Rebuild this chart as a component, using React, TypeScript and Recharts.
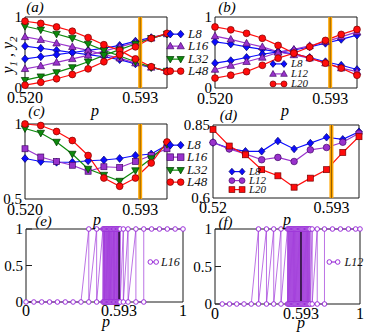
import React from 'react';
import { LineChart, Line, XAxis, YAxis, ReferenceLine, ReferenceArea, Legend } from 'recharts';

const CW = 366;
const CH = 336;
const SERIF = '"Liberation Serif", "DejaVu Serif", serif';

const BLUE = '#0c0cff';
const PURPLE = '#9932cc';
const GREEN = '#0c8a0c';
const RED = '#ff0c0c';
const ORANGE = '#ffa500';
const OUTLINE: Record<string, string> = {
  [BLUE]: '#00006a',
  [PURPLE]: '#45086a',
  [GREEN]: '#003a00',
  [RED]: '#780000',
};

// ---------- data ----------
const P_GRID = [0.52, 0.53, 0.54, 0.55, 0.56, 0.57, 0.58, 0.59, 0.6, 0.61];
const PC = 0.593;

// panel (a): y1 (decreasing) and y2 (increasing)
const A_L8_Y1 = [0.59, 0.56, 0.53, 0.5, 0.47, 0.44, 0.4, 0.34, 0.29, 0.24];
const A_L8_Y2 = [0.41, 0.44, 0.47, 0.5, 0.53, 0.56, 0.6, 0.66, 0.71, 0.76];
const A_L16_Y1 = [0.72, 0.68, 0.63, 0.58, 0.53, 0.47, 0.42, 0.35, 0.29, 0.24];
const A_L16_Y2 = [0.27, 0.31, 0.36, 0.41, 0.46, 0.52, 0.58, 0.64, 0.7, 0.76];
const A_L32_Y1 = [0.87, 0.82, 0.76, 0.7, 0.62, 0.53, 0.45, 0.37, 0.29, 0.24];
const A_L32_Y2 = [0.11, 0.16, 0.22, 0.29, 0.37, 0.46, 0.54, 0.62, 0.7, 0.76];
const A_L48_Y1 = [0.94, 0.91, 0.86, 0.8, 0.71, 0.61, 0.53, 0.41, 0.3, 0.23];
const A_L48_Y2 = [0.04, 0.08, 0.13, 0.19, 0.27, 0.37, 0.47, 0.58, 0.7, 0.77];

// panel (b)
const B_L8_Y1 = [0.65, 0.62, 0.58, 0.545, 0.51, 0.48, 0.43, 0.37, 0.32, 0.26];
const B_L8_Y2 = [0.35, 0.385, 0.43, 0.475, 0.51, 0.535, 0.58, 0.63, 0.685, 0.745];
const B_L12_Y1 = [0.73, 0.685, 0.63, 0.58, 0.51, 0.465, 0.42, 0.35, 0.28, 0.23];
const B_L12_Y2 = [0.26, 0.315, 0.37, 0.43, 0.5, 0.545, 0.595, 0.65, 0.72, 0.79];
const B_L20_Y1 = [0.86, 0.82, 0.77, 0.7, 0.6, 0.49, 0.42, 0.35, 0.28, 0.18];
const B_L20_Y2 = [0.14, 0.18, 0.23, 0.32, 0.42, 0.49, 0.58, 0.67, 0.755, 0.825];

// panel (c)
const C_L8 = [0.77, 0.75, 0.745, 0.745, 0.755, 0.76, 0.77, 0.79, 0.8, 0.86];
const C_L16 = [0.835, 0.78, 0.75, 0.725, 0.685, 0.715, 0.71, 0.75, 0.79, 0.835];
const C_L32 = [0.97, 0.94, 0.88, 0.8, 0.7, 0.66, 0.62, 0.69, 0.77, 0.865];
const C_L48 = [1.0, 0.99, 0.95, 0.89, 0.79, 0.64, 0.585, 0.64, 0.74, 0.88];

// panel (d)
const D_L8 = [0.79, 0.77, 0.76, 0.76, 0.795, 0.768, 0.788, 0.808, 0.801, 0.827];
const D_L12 = [0.79, 0.768, 0.751, 0.731, 0.739, 0.725, 0.765, 0.773, 0.791, 0.822];
const D_L20 = [0.835, 0.778, 0.748, 0.697, 0.676, 0.637, 0.668, 0.697, 0.756, 0.81];

// panel (e), L16 single samples: p where outcome 0, p where outcome flips 1 -> 0, p where 0 -> 1, p where 1
const E_ZERO = [0, 0.05, 0.1, 0.15, 0.2, 0.25, 0.3, 0.35];
const E_FLIP = [0.4, 0.45, 0.49, 0.495, 0.5, 0.505, 0.511, 0.516, 0.521, 0.526, 0.532, 0.537, 0.542, 0.547, 0.553, 0.558, 0.563, 0.568, 0.574, 0.579, 0.584, 0.589, 0.595, 0.6, 0.62, 0.65, 0.7];
const E_RISE = [0.75];
const E_ONE = [0.8, 0.85, 0.9, 0.95, 1.0];

// panel (f), L12
const F_ZERO = [0.05, 0.1, 0.15, 0.2, 0.25];
const F_FLIP = [0.3, 0.355, 0.405, 0.455, 0.5, 0.506, 0.512, 0.518, 0.524, 0.53, 0.536, 0.542, 0.548, 0.554, 0.56, 0.566, 0.572, 0.578, 0.584, 0.59, 0.596, 0.602, 0.608, 0.614, 0.62, 0.626, 0.632, 0.638, 0.644, 0.65, 0.656, 0.67, 0.705];
const F_RISE = [0.755];
const F_ONE = [0.81, 0.865, 0.92, 0.97, 1.0];

const X_TICKS_AB = [0.52, PC];
const X_LABELS_AC = ['0.520', '0.593'];
const X_LABELS_D = ['0.52', '0.593'];
const X_TICKS_EF = [0, PC, 1];
const X_LABELS_EF = ['0', '0.593', '1'];

// ---------- tables ----------
const rowsA = P_GRID.map((p, i) => ({
  p, l8a: A_L8_Y1[i], l8b: A_L8_Y2[i], l16a: A_L16_Y1[i], l16b: A_L16_Y2[i],
  l32a: A_L32_Y1[i], l32b: A_L32_Y2[i], l48a: A_L48_Y1[i], l48b: A_L48_Y2[i],
}));
const rowsB = P_GRID.map((p, i) => ({
  p, l8a: B_L8_Y1[i], l8b: B_L8_Y2[i], l12a: B_L12_Y1[i], l12b: B_L12_Y2[i],
  l20a: B_L20_Y1[i], l20b: B_L20_Y2[i],
}));
const rowsC = P_GRID.map((p, i) => ({ p, l8: C_L8[i], l16: C_L16[i], l32: C_L32[i], l48: C_L48[i] }));
const rowsD = P_GRID.map((p, i) => ({ p, l8: D_L8[i], l12: D_L12[i], l20: D_L20[i] }));

const buildSeq = (zero: number[], flip: number[], rise: number[], one: number[]) => {
  const out: { p: number; v: number }[] = [];
  zero.forEach((p) => out.push({ p, v: 0 }));
  flip.forEach((p) => { out.push({ p, v: 1 }); out.push({ p, v: 0 }); });
  rise.forEach((p) => { out.push({ p, v: 0 }); out.push({ p, v: 1 }); });
  one.forEach((p) => out.push({ p, v: 1 }));
  return out;
};
const rowsE = buildSeq(E_ZERO, E_FLIP, E_RISE, E_ONE);
const rowsF = buildSeq(F_ZERO, F_FLIP, F_RISE, F_ONE);

// ---------- markers ----------
type Shape = 'circle' | 'ocircle' | 'square' | 'diamond' | 'up' | 'down';

function Marker({ shape, cx, cy, s, color }: { shape: Shape; cx: number; cy: number; s: number; color: string }) {
  const st = OUTLINE[color] || '#000';
  if (cx == null || cy == null || isNaN(cx) || isNaN(cy)) return null;
  switch (shape) {
    case 'circle':
      return <circle cx={cx} cy={cy} r={s} fill={color} stroke={st} strokeWidth={0.7} />;
    case 'ocircle':
      return <circle cx={cx} cy={cy} r={s} fill="#fff" stroke={color} strokeWidth={1} />;
    case 'square':
      return <rect x={cx - s} y={cy - s} width={2 * s} height={2 * s} fill={color} stroke={st} strokeWidth={0.7} />;
    case 'diamond':
      return (
        <polygon
          points={`${cx},${cy - s * 1.15} ${cx + s},${cy} ${cx},${cy + s * 1.15} ${cx - s},${cy}`}
          fill={color} stroke={st} strokeWidth={0.7}
        />
      );
    case 'up':
      return (
        <polygon
          points={`${cx},${cy - s * 1.15} ${cx + s * 1.1},${cy + s * 0.8} ${cx - s * 1.1},${cy + s * 0.8}`}
          fill={color} stroke={st} strokeWidth={0.7}
        />
      );
    case 'down':
      return (
        <polygon
          points={`${cx},${cy + s * 1.15} ${cx + s * 1.1},${cy - s * 0.8} ${cx - s * 1.1},${cy - s * 0.8}`}
          fill={color} stroke={st} strokeWidth={0.7}
        />
      );
    default:
      return null;
  }
}

const dotOf = (shape: Shape, color: string, s: number) => (props: any) => (
  <Marker key={`d-${props.index}`} shape={shape} cx={props.cx} cy={props.cy} s={s} color={color} />
);

type Item = { name: string; color: string; shape: Shape };

function LegendRows({ items, rowH, iconW, fontSize, gap, s }: { items: Item[]; rowH: number; iconW: number; fontSize: number; gap: number; s: number }) {
  return (
    <div style={{ fontFamily: SERIF }}>
      {items.map((it) => (
        <div key={it.name} style={{ display: 'flex', alignItems: 'center', height: rowH }}>
          <svg width={iconW} height={rowH} style={{ display: 'block', overflow: 'visible' }}>
            <line x1={s} y1={rowH / 2} x2={iconW - s} y2={rowH / 2} stroke={it.color} strokeWidth={1.2} />
            <Marker shape={it.shape} cx={s} cy={rowH / 2} s={s} color={it.color} />
            <Marker shape={it.shape} cx={iconW - s} cy={rowH / 2} s={s} color={it.color} />
          </svg>
          <span style={{ marginLeft: gap, fontSize, fontStyle: 'italic', lineHeight: `${rowH}px`, color: '#111', whiteSpace: 'nowrap' }}>
            {it.name}
          </span>
        </div>
      ))}
    </div>
  );
}

type LegendSpec = { left: number; top: number; rowH: number; iconW: number; fontSize: number; gap: number; s: number; items: Item[] };

type PanelProps = {
  data: any[];
  box: [number, number, number, number];
  xDomain: [number, number];
  xTicks: number[];
  xLabels: string[];
  xm: number;
  yDomain: [number, number];
  yTicks: number[];
  yLabels: string[];
  inwardY?: boolean;
  orange?: boolean;
  legend: LegendSpec;
  children: React.ReactNode;
};

function Panel({ data, box, xDomain, xTicks, xLabels, xm, yDomain, yTicks, yLabels, inwardY, orange, legend, children }: PanelProps) {
  const [x0, y0, x1, y1] = box;
  const yw = 20;
  const xh = 20;
  const tickStyle = { fontSize: 16, fill: '#000', fontFamily: SERIF };
  const yTickStyle = { fontSize: 15, fill: '#000', fontFamily: SERIF };
  return (
    <div style={{ position: 'absolute', left: 0, top: 0 }}>
      <LineChart
        width={CW}
        height={CH}
        data={data}
        margin={{ top: y0, left: x0 - yw, right: CW - x1, bottom: CH - y1 - xh }}
      >
        <XAxis
          type="number"
          dataKey="p"
          domain={xDomain}
          ticks={xTicks}
          interval={0}
          tickFormatter={(v: number) => xLabels[xTicks.indexOf(v)] ?? ''}
          axisLine={false}
          tickLine={false}
          tickSize={0}
          tickMargin={xm}
          height={xh}
          tick={tickStyle}
        />
        <YAxis
          type="number"
          domain={yDomain}
          ticks={yTicks}
          interval={0}
          tickFormatter={(v: number) => yLabels[yTicks.indexOf(v)] ?? ''}
          axisLine={false}
          tickLine={inwardY ? { stroke: '#222', strokeWidth: 1 } : false}
          tickSize={inwardY ? -6 : 0}
          tickMargin={inwardY ? 9 : 3}
          width={yw}
          tick={yTickStyle}
        />
        <ReferenceArea
          x1={xDomain[0]} x2={xDomain[1]} y1={yDomain[0]} y2={yDomain[1]}
          fill="none" fillOpacity={0} stroke="#1a1a1a" strokeWidth={1} ifOverflow="visible"
        />
        {children}
        {orange ? (
          <ReferenceLine x={PC} stroke={ORANGE} strokeWidth={4} ifOverflow="visible" />
        ) : null}
        <ReferenceLine x={PC} stroke="#000" strokeOpacity={orange ? 0.45 : 0.8} strokeWidth={orange ? 1 : 1.5} ifOverflow="visible" />
        <Legend
          layout="vertical"
          align="center"
          verticalAlign="middle"
          wrapperStyle={{ left: legend.left, top: legend.top, width: 'auto', height: 'auto' }}
          content={() => (
            <LegendRows items={legend.items} rowH={legend.rowH} iconW={legend.iconW} fontSize={legend.fontSize} gap={legend.gap} s={legend.s} />
          )}
        />
      </LineChart>
    </div>
  );
}

const lineCommon = { type: 'linear' as const, isAnimationActive: false, strokeWidth: 1.2, activeDot: false as const };

const ITEMS_A: Item[] = [
  { name: 'L8', color: BLUE, shape: 'diamond' },
  { name: 'L16', color: PURPLE, shape: 'up' },
  { name: 'L32', color: GREEN, shape: 'down' },
  { name: 'L48', color: RED, shape: 'circle' },
];
const ITEMS_B: Item[] = [
  { name: 'L8', color: BLUE, shape: 'diamond' },
  { name: 'L12', color: PURPLE, shape: 'up' },
  { name: 'L20', color: RED, shape: 'circle' },
];
const ITEMS_C: Item[] = [
  { name: 'L8', color: BLUE, shape: 'diamond' },
  { name: 'L16', color: PURPLE, shape: 'square' },
  { name: 'L32', color: GREEN, shape: 'down' },
  { name: 'L48', color: RED, shape: 'circle' },
];
const ITEMS_D: Item[] = [
  { name: 'L8', color: BLUE, shape: 'diamond' },
  { name: 'L12', color: PURPLE, shape: 'circle' },
  { name: 'L20', color: RED, shape: 'square' },
];

const EF_PURPLE = '#9b30d9';

export default function App() {
  const S = 3.4;
  return (
    <div style={{ position: 'absolute', left: 0, top: 0, width: CW, height: CH, background: '#fff', overflow: 'hidden', fontFamily: SERIF }}>
      {/* (a) */}
      <Panel
        data={rowsA} box={[25, 17, 167, 88]} xDomain={[0.52, 0.61]} xTicks={X_TICKS_AB} xLabels={X_LABELS_AC} xm={4}
        yDomain={[0, 1]} yTicks={[0, 1]} yLabels={['0', '1']} orange
        legend={{ left: 167, top: 28, rowH: 12.3, iconW: 17, fontSize: 13, gap: 4, s: 3.3, items: ITEMS_A }}
      >
        {['l8', 'l16', 'l32', 'l48'].flatMap((k, i) => {
          const it = ITEMS_A[i];
          return ['a', 'b'].map((suf) => (
            <Line key={k + suf} {...lineCommon} dataKey={k + suf} stroke={it.color} dot={dotOf(it.shape, it.color, S)} />
          ));
        })}
      </Panel>
      {/* (b) */}
      <Panel
        data={rowsB} box={[215, 17, 357, 88]} xDomain={[0.52, 0.61]} xTicks={X_TICKS_AB} xLabels={X_LABELS_AC} xm={5}
        yDomain={[0, 1]} yTicks={[0, 1]} yLabels={['0', '1']} orange
        legend={{ left: 270, top: 59.4, rowH: 9.85, iconW: 17, fontSize: 11, gap: 4, s: 3, items: ITEMS_B }}
      >
        {['l8', 'l12', 'l20'].flatMap((k, i) => {
          const it = ITEMS_B[i];
          return ['a', 'b'].map((suf) => (
            <Line key={k + suf} {...lineCommon} dataKey={k + suf} stroke={it.color} dot={dotOf(it.shape, it.color, S)} />
          ));
        })}
      </Panel>
      {/* (c) */}
      <Panel
        data={rowsC} box={[25, 124, 167, 199]} xDomain={[0.52, 0.61]} xTicks={X_TICKS_AB} xLabels={X_LABELS_AC} xm={4.5}
        yDomain={[0.5, 1]} yTicks={[0.5, 1]} yLabels={['0.5', '1']} orange
        legend={{ left: 167, top: 139, rowH: 12.3, iconW: 17, fontSize: 13, gap: 3, s: 3.3, items: ITEMS_C }}
      >
        {['l8', 'l16', 'l32', 'l48'].map((k, i) => {
          const it = ITEMS_C[i];
          return <Line key={k} {...lineCommon} dataKey={k} stroke={it.color} dot={dotOf(it.shape, it.color, it.shape === 'square' ? 3 : S)} />;
        })}
      </Panel>
      {/* (d) */}
      <Panel
        data={rowsD} box={[213, 125, 359, 198]} xDomain={[0.52, 0.61]} xTicks={X_TICKS_AB} xLabels={X_LABELS_D} xm={4}
        yDomain={[0.6, 0.85]} yTicks={[0.6, 0.85]} yLabels={['0.6', '0.85']} orange
        legend={{ left: 229, top: 167.1, rowH: 9.2, iconW: 16, fontSize: 11, gap: 4, s: 2.9, items: ITEMS_D }}
      >
        {['l8', 'l12', 'l20'].map((k, i) => {
          const it = ITEMS_D[i];
          return <Line key={k} {...lineCommon} dataKey={k} stroke={it.color} dot={dotOf(it.shape, it.color, it.shape === 'square' ? 3 : 3.3)} />;
        })}
      </Panel>
      {/* (e) */}
      <Panel
        data={rowsE} box={[26, 229, 183, 302]} xDomain={[0, 1]} xTicks={X_TICKS_EF} xLabels={X_LABELS_EF} xm={3}
        yDomain={[0, 1]} yTicks={[0, 0.5, 1]} yLabels={['0', '0.5', '1']} inwardY
        legend={{ left: 147.5, top: 256, rowH: 12, iconW: 10.5, fontSize: 12, gap: 3, s: 2.3, items: [{ name: 'L16', color: EF_PURPLE, shape: 'ocircle' }] }}
      >
        <Line {...lineCommon} strokeWidth={0.8} strokeOpacity={0.85} dataKey="v" stroke={EF_PURPLE} dot={dotOf('ocircle', EF_PURPLE, 2.3)} />
      </Panel>
      {/* (f) */}
      <Panel
        data={rowsF} box={[215, 229, 360, 304]} xDomain={[0, 1]} xTicks={X_TICKS_EF} xLabels={X_LABELS_EF} xm={4}
        yDomain={[0, 1]} yTicks={[0, 0.5, 1]} yLabels={['0', '0.5', '1']} inwardY
        legend={{ left: 326.5, top: 256, rowH: 12, iconW: 13, fontSize: 12, gap: 5, s: 2.3, items: [{ name: 'L12', color: EF_PURPLE, shape: 'ocircle' }] }}
      >
        <Line {...lineCommon} strokeWidth={0.8} strokeOpacity={0.85} dataKey="v" stroke={EF_PURPLE} dot={dotOf('ocircle', EF_PURPLE, 2.3)} />
      </Panel>

      {/* text overlay */}
      <svg width={CW} height={CH} style={{ position: 'absolute', left: 0, top: 0, pointerEvents: 'none' }}>
        <g fontFamily={SERIF} fontStyle="italic" fill="#000" textAnchor="middle">
          <text x={35} y={11.7} fontSize={15}>(a)</text>
          <text x={227} y={12.2} fontSize={15}>(b)</text>
          <text x={36.5} y={115.7} fontSize={15}>(c)</text>
          <text x={228.5} y={119.7} fontSize={15}>(d)</text>
          <text x={43.5} y={225.7} fontSize={15}>(e)</text>
          <text x={225.5} y={226.7} fontSize={15}>(f)</text>
          <text x={95} y={115.5} fontSize={16}>p</text>
          <text x={285} y={116} fontSize={16}>p</text>
          <text x={97} y={224.5} fontSize={16}>p</text>
          <text x={287} y={224.5} fontSize={16}>p</text>
          <text x={106} y={327} fontSize={16}>p</text>
          <text x={301} y={328} fontSize={16}>p</text>
          <text transform="translate(13,55) rotate(-90)" fontSize={16}>
            y<tspan fontSize={11} dy={4}>1</tspan>
            <tspan dy={-4}> , y</tspan>
            <tspan fontSize={11} dy={4}>2</tspan>
          </text>
        </g>
      </svg>
    </div>
  );
}
